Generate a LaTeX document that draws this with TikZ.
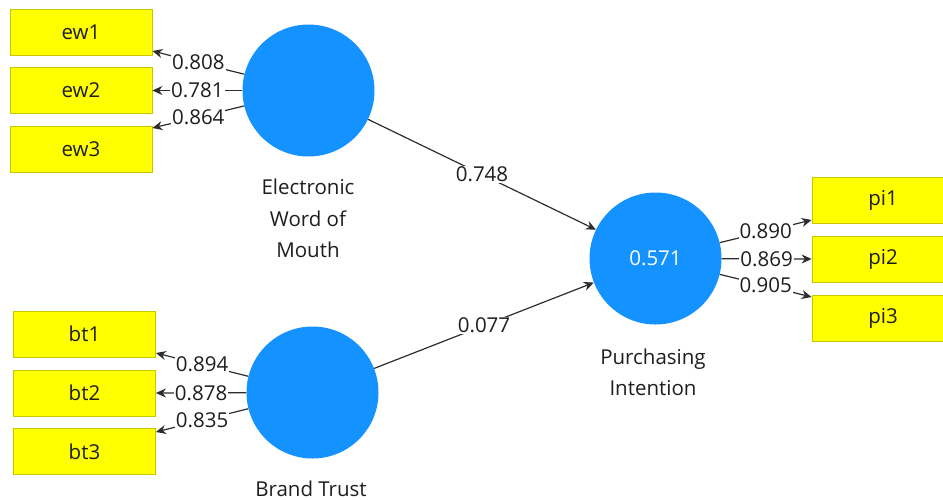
\documentclass[tikz,border=0pt]{standalone}
\usepackage{fontspec}
\setmainfont{Open Sans}
\usetikzlibrary{arrows.meta}
\definecolor{latent}{RGB}{20,146,255}
\definecolor{indfill}{RGB}{255,255,0}
\definecolor{indedge}{RGB}{200,200,0}
\definecolor{ink}{RGB}{30,30,30}
\definecolor{wire}{RGB}{45,45,45}
\tikzset{
  indicator/.style={draw=indedge, line width=0.8pt, fill=indfill, minimum width=142pt,
    minimum height=46pt, inner sep=0pt, text=ink, font=\fontsize{20.5}{24}\selectfont},
  construct/.style={circle, fill=latent, minimum size=132pt, inner sep=0pt,
    text=white, font=\fontsize{20.5}{24}\selectfont},
  caption/.style={align=center, text=ink, font=\fontsize{20.5}{31.5}\selectfont},
  coef/.style={fill=white, inner sep=1pt, text=ink, font=\fontsize{20.5}{24}\selectfont},
  path/.style={draw=wire, line width=1.2pt, -{Stealth[length=10pt,width=9pt]}}
}
\begin{document}
\begin{tikzpicture}[x=1pt, y=-1pt]
\useasboundingbox (0,0) rectangle (943,499);

% latent constructs
\node[construct] (ewom) at (308.5,90.5) {};
\node[construct] (bt)   at (312.5,392.5) {};
\node[construct] (pi)   at (655.5,258.5) {0.571};

% construct names
\node[caption] (ewomname) at (308,218.5) {Electronic\\Word of\\Mouth};
\node[caption] (btname)   at (311,489) {Brand Trust};
\node[caption] (piname)   at (653,372.5) {Purchasing\\Intention};

% indicators
\node[indicator] (ew1) at (81,32) {ew1};
\node[indicator] (ew2) at (81,90.5) {ew2};
\node[indicator] (ew3) at (81,149) {ew3};
\node[indicator] (bt1) at (84.5,334) {bt1};
\node[indicator] (bt2) at (84.5,393) {bt2};
\node[indicator] (bt3) at (84.5,451.5) {bt3};
\node[indicator] (pi1) at (883,200) {pi1};
\node[indicator] (pi2) at (883,259) {pi2};
\node[indicator] (pi3) at (883,318) {pi3};

% outer loadings
\draw[path] (ewom) -- node[coef] {0.808} ([yshift=-19pt]ew1.east);
\draw[path] (ewom) -- node[coef] {0.781} (ew2.east);
\draw[path] (ewom) -- node[coef] {0.864} ([yshift=21pt]ew3.east);
\draw[path] (bt) -- node[coef] {0.894} ([yshift=-19pt]bt1.east);
\draw[path] (bt) -- node[coef] {0.878} (bt2.east);
\draw[path] (bt) -- node[coef] {0.835} ([yshift=19.5pt]bt3.east);
\draw[path] (pi) -- node[coef] {0.890} ([yshift=-20pt]pi1.west);
\draw[path] (pi) -- node[coef] {0.869} (pi2.west);
\draw[path] (pi) -- node[coef] {0.905} ([yshift=21pt]pi3.west);

% path coefficients
\draw[path] (ewom) -- node[coef] {0.748} (pi);
\draw[path] (bt) -- node[coef] {0.077} (pi);
\end{tikzpicture}
\end{document}
